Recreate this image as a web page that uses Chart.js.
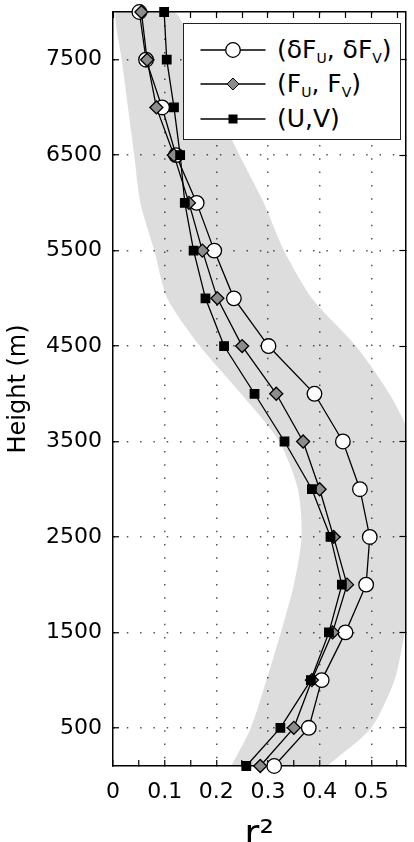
<!DOCTYPE html>
<html>
<head>
<meta charset="utf-8">
<title>r2 profile</title>
<script src="https://cdn.jsdelivr.net/npm/chart.js@4.4.1/dist/chart.umd.min.js"></script>
<style>
    html, body { margin: 0; padding: 0; background: #fff; width: 414px; height: 842px; overflow: hidden; }
    #wrap { position: relative; width: 414px; height: 880px; }
    #legend {
        position: absolute; left: 183px; top: 23px; width: 216px; height: 115px;
        border: 1.5px solid #222; background: #fff;
        font-family: 'DejaVu Sans', sans-serif; font-size: 25px; color: #000;
    }
    .row { position: absolute; left: 0; width: 100%; height: 30px; }
    .row svg { position: absolute; left: 16px; top: 3px; }
    .row span { position: absolute; left: 93px; top: 0; line-height: 30px; white-space: nowrap; }
    sub { font-size: 14px; vertical-align: -5px; line-height: 0; }
</style>
</head>
<body>
<div id="wrap">
    <canvas id="chart"></canvas>
    <div id="legend">
        <div class="row" style="top:11px">
            <svg width="70" height="24"><line x1="0.5" y1="12" x2="65.5" y2="12" stroke="#000" stroke-width="1.3"/><circle cx="33" cy="12" r="7.3" fill="#fff" stroke="#000" stroke-width="1.3"/></svg>
            <span>(δF<sub>U</sub>, δF<sub>V</sub>)</span>
        </div>
        <div class="row" style="top:45px">
            <svg width="70" height="24"><line x1="0.5" y1="12" x2="65.5" y2="12" stroke="#000" stroke-width="1.3"/><polygon points="33,6 39,12 33,18 27,12" fill="#8c8c8c" stroke="#000" stroke-width="1"/></svg>
            <span>(F<sub>U</sub>, F<sub>V</sub>)</span>
        </div>
        <div class="row" style="top:80px">
            <svg width="70" height="24"><line x1="0.5" y1="12" x2="65.5" y2="12" stroke="#000" stroke-width="1.3"/><rect x="28.5" y="7.5" width="9" height="9" fill="#000"/></svg>
            <span>(U,V)</span>
        </div>
    </div>
</div>
<script>
// heights of the profile levels (m)
const heights = [100, 500, 1000, 1500, 2000, 2500, 3000, 3500, 4000, 4500, 5000, 5500, 6000, 6500, 7000, 7500, 8000];

// r^2 per level
const deltaF  = [0.312, 0.379, 0.404, 0.450, 0.490, 0.497, 0.478, 0.445, 0.390, 0.301, 0.234, 0.196, 0.162, 0.122, 0.095, 0.064, 0.051];
const forcing = [0.285, 0.350, 0.385, 0.425, 0.453, 0.427, 0.400, 0.368, 0.316, 0.250, 0.202, 0.173, 0.147, 0.118, 0.084, 0.066, 0.055];
const wind    = [0.258, 0.324, 0.383, 0.418, 0.443, 0.421, 0.385, 0.332, 0.274, 0.215, 0.179, 0.156, 0.139, 0.130, 0.118, 0.104, 0.099];

// grey band, lower and upper edge at the same heights
const bandLow  = [0.229, 0.267, 0.297, 0.325, 0.350, 0.365, 0.358, 0.322, 0.248, 0.168, 0.105, 0.080, 0.053, 0.041, 0.029, 0.017, 0.006];
const bandHigh = [0.415, 0.500, 0.545, 0.565, 0.585, 0.595, 0.595, 0.580, 0.535, 0.470, 0.385, 0.331, 0.292, 0.245, 0.200, 0.160, 0.119];

const xMajorTicks = [0, 0.1, 0.2, 0.3, 0.4, 0.5];
const xMinorTicks = [0.05, 0.15, 0.25, 0.35, 0.45, 0.55];
const yTicks = [500, 1500, 2500, 3500, 4500, 5500, 6500, 7500];

const X_MAX = 0.566;
const CANVAS_H = 880;

Chart.defaults.font.family = "'DejaVu Sans', sans-serif";
Chart.defaults.color = '#000';

function toPoints(values) {
    return heights.map((h, i) => ({ x: values[i], y: h }));
}

const bandPoints = toPoints(bandLow).concat(toPoints(bandHigh).reverse());
const xTickList = xMajorTicks.concat(xMinorTicks).sort((a, b) => a - b);

function seriesDataset(values, style, radius, fillColor) {
    return {
        data: toPoints(values),
        showLine: true,
        borderColor: '#000',
        borderWidth: 1.3,
        tension: 0,
        fill: false,
        pointStyle: style,
        pointRadius: radius,
        pointBackgroundColor: fillColor,
        pointBorderColor: '#000',
        pointBorderWidth: 1.3,
        clip: false
    };
}

// keep the plot box where the figure has it
function noPad(s) {
    s.paddingTop = 0;
    s.paddingBottom = 0;
    s.paddingLeft = 0;
    s.paddingRight = 0;
}

const ctx = document.getElementById('chart').getContext('2d');
new Chart(ctx, {
    type: 'scatter',
    data: {
        datasets: [
            seriesDataset(wind, 'rect', 6, '#000'),
            seriesDataset(forcing, 'rectRot', 6.5, '#8c8c8c'),
            seriesDataset(deltaF, 'circle', 7.3, '#fff'),
            {
                data: bandPoints,
                showLine: true,
                fill: 'shape',
                backgroundColor: 'rgba(0,0,0,0.135)',
                borderWidth: 0,
                borderColor: 'rgba(0,0,0,0)',
                pointRadius: 0,
                tension: 0.25
            }
        ]
    },
    options: {
        responsive: true,
        maintainAspectRatio: false,
        animation: false,
        events: [],
        layout: { padding: { top: 12, right: 3, left: 0, bottom: 0 } },
        plugins: {
            legend: { display: false },
            tooltip: { enabled: false }
        },
        scales: {
            x: {
                type: 'linear',
                position: 'bottom',
                min: 0,
                max: X_MAX,
                afterBuildTicks: s => { s.ticks = xTickList.map(v => ({ value: v })); },
                afterFit: s => { s.height = CANVAS_H - 766; noPad(s); },
                ticks: {
                    autoSkip: false,
                    maxRotation: 0,
                    padding: 19,
                    font: { size: 22 },
                    color: '#000',
                    callback: v => xMajorTicks.includes(v) ? String(v) : ''
                },
                grid: {
                    color: c => (c.tick && c.tick.value > 0 && xMajorTicks.includes(c.tick.value)) ? '#555' : 'rgba(0,0,0,0)',
                    lineWidth: 1.5,
                    tickLength: -6,
                    tickColor: '#000',
                    tickWidth: 1.2
                },
                border: { display: true, color: '#000', width: 1.5, dash: [1.5, 11.8] },
                title: { display: true, text: 'r²', font: { size: 36, weight: 'normal' }, color: '#000', padding: { top: 0, bottom: 23 } }
            },
            x2: {
                type: 'linear',
                position: 'top',
                min: 0,
                max: X_MAX,
                afterBuildTicks: s => { s.ticks = xTickList.map(v => ({ value: v })); },
                afterFit: s => { s.height = 0; noPad(s); },
                ticks: { display: false },
                grid: { drawOnChartArea: false, tickLength: -6, tickColor: '#000', tickWidth: 1.2 },
                border: { display: true, color: '#000', width: 1.5 }
            },
            y: {
                type: 'linear',
                position: 'left',
                min: 100,
                max: 8000,
                afterBuildTicks: s => { s.ticks = yTicks.map(v => ({ value: v })); },
                afterFit: s => { s.width = 113; noPad(s); },
                ticks: { padding: 17, font: { size: 22 }, color: '#000', callback: v => String(v) },
                grid: {
                    color: '#555',
                    lineWidth: 1.5,
                    tickLength: -6,
                    tickColor: '#000',
                    tickWidth: 1.2
                },
                border: { display: true, color: '#000', width: 1.5, dash: [1.5, 11.8] },
                title: { display: true, text: 'Height (m)', font: { size: 24 }, color: '#000', padding: { top: 4, bottom: 0 } }
            },
            y2: {
                type: 'linear',
                position: 'right',
                min: 100,
                max: 8000,
                afterBuildTicks: s => { s.ticks = yTicks.map(v => ({ value: v })); },
                afterFit: s => { s.width = 0; noPad(s); },
                ticks: { display: false },
                grid: { drawOnChartArea: false, tickLength: -6, tickColor: '#000', tickWidth: 1.2 },
                border: { display: true, color: '#000', width: 1.5 }
            }
        }
    }
});
</script>
</body>
</html>
